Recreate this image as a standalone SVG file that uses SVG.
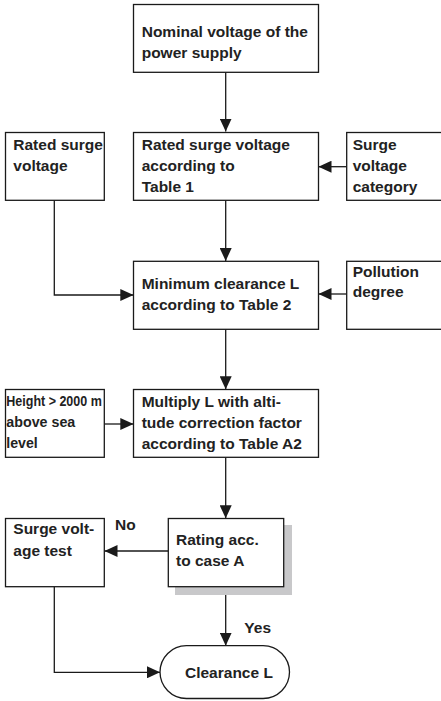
<svg xmlns="http://www.w3.org/2000/svg" width="441" height="701" viewBox="0 0 441 701">
<style>
.box{fill:#fff;stroke:#1a1a1a;stroke-width:1.3}
.t{font-family:"Liberation Sans",Arial,sans-serif;font-weight:bold;font-size:15.5px;fill:#222}
.c{fill:none;stroke:#1a1a1a;stroke-width:1.3}
</style>
<defs>
<marker id="ah" viewBox="0 0 13 12" refX="13" refY="6" markerWidth="13" markerHeight="12" markerUnits="userSpaceOnUse" orient="auto">
<path d="M0,0 L13,6 L0,12 Z" fill="#1a1a1a"/>
</marker>
</defs>
<rect width="441" height="701" fill="#fff"/>
<g id="connectors">
<path class="c" d="M225.7,72.3 V131.5" marker-end="url(#ah)"/>
<path class="c" d="M346.7,166.7 H318.5" marker-end="url(#ah)"/>
<path class="c" d="M225.7,200.3 V261" marker-end="url(#ah)"/>
<path class="c" d="M54.3,200.3 V295 H133.3" marker-end="url(#ah)"/>
<path class="c" d="M346.7,294 H318.5" marker-end="url(#ah)"/>
<path class="c" d="M225.7,329.3 V389.3" marker-end="url(#ah)"/>
<path class="c" d="M104.3,424 H133.3" marker-end="url(#ah)"/>
<path class="c" d="M225.7,457.3 V518.3" marker-end="url(#ah)"/>
<path class="c" d="M168.3,551 H104.5" marker-end="url(#ah)"/>
<path class="c" d="M225.7,595 V645.7" marker-end="url(#ah)"/>
<path class="c" d="M54.3,586.7 V672.3 H160" marker-end="url(#ah)"/>
<text class="t" x="115" y="530">No</text>
<text class="t" x="244.3" y="632.7">Yes</text>
</g>
<g id="nominal">
<rect class="box" x="133.5" y="4.5" width="185" height="67.8"/>
<text class="t" x="141.7" y="36.5">Nominal voltage of the</text>
<text class="t" x="141.7" y="58">power supply</text>
</g>
<g id="rated-left">
<rect class="box" x="5.5" y="132.5" width="98.8" height="67.8"/>
<text class="t" x="13.3" y="150">Rated surge</text>
<text class="t" x="13.3" y="171">voltage</text>
</g>
<g id="rated-table1">
<rect class="box" x="133.5" y="132.5" width="185" height="67.8"/>
<text class="t" x="141.7" y="150">Rated surge voltage</text>
<text class="t" x="141.7" y="171">according to</text>
<text class="t" x="141.7" y="192">Table 1</text>
</g>
<g id="category">
<rect class="box" x="346.7" y="132.5" width="100" height="67.8"/>
<text class="t" x="352.7" y="150">Surge</text>
<text class="t" x="352.7" y="171">voltage</text>
<text class="t" x="352.7" y="192">category</text>
</g>
<g id="minimum">
<rect class="box" x="133.5" y="261.3" width="185" height="68"/>
<text class="t" x="141.7" y="289">Minimum clearance L</text>
<text class="t" x="141.7" y="309.5">according to Table 2</text>
</g>
<g id="pollution">
<rect class="box" x="346.7" y="261.3" width="100" height="68"/>
<text class="t" x="352.7" y="276.7">Pollution</text>
<text class="t" x="352.7" y="297">degree</text>
</g>
<g id="height">
<rect class="box" x="5.5" y="389.5" width="98.8" height="67.8"/>
<text class="t" x="6.3" y="405.7" textLength="95.5" lengthAdjust="spacingAndGlyphs">Height &gt; 2000 m</text>
<text class="t" x="6.3" y="426.7" textLength="69" lengthAdjust="spacingAndGlyphs">above sea</text>
<text class="t" x="6.3" y="448" textLength="31.5" lengthAdjust="spacingAndGlyphs">level</text>
</g>
<g id="multiply">
<rect class="box" x="133.5" y="389.5" width="185" height="67.8"/>
<text class="t" x="141.7" y="406.7">Multiply L with alti-</text>
<text class="t" x="141.7" y="427.5">tude correction factor</text>
<text class="t" x="141.7" y="448.5">according to Table A2</text>
</g>
<g id="rating">
<rect x="175" y="525" width="117" height="70" fill="#c8c8ca"/>
<rect class="box" x="168.3" y="518.5" width="115.4" height="68.2"/>
<text class="t" x="176" y="545">Rating acc.</text>
<text class="t" x="176" y="566">to case A</text>
</g>
<g id="surge-test">
<rect class="box" x="5.5" y="518.5" width="98.8" height="68.2"/>
<text class="t" x="13.3" y="534.3">Surge volt-</text>
<text class="t" x="13.3" y="555.5">age test</text>
</g>
<g id="clearance">
<rect class="box" x="160" y="645.7" width="129.5" height="52.8" rx="26.4"/>
<text class="t" x="185" y="678.3">Clearance L</text>
</g>
</svg>
